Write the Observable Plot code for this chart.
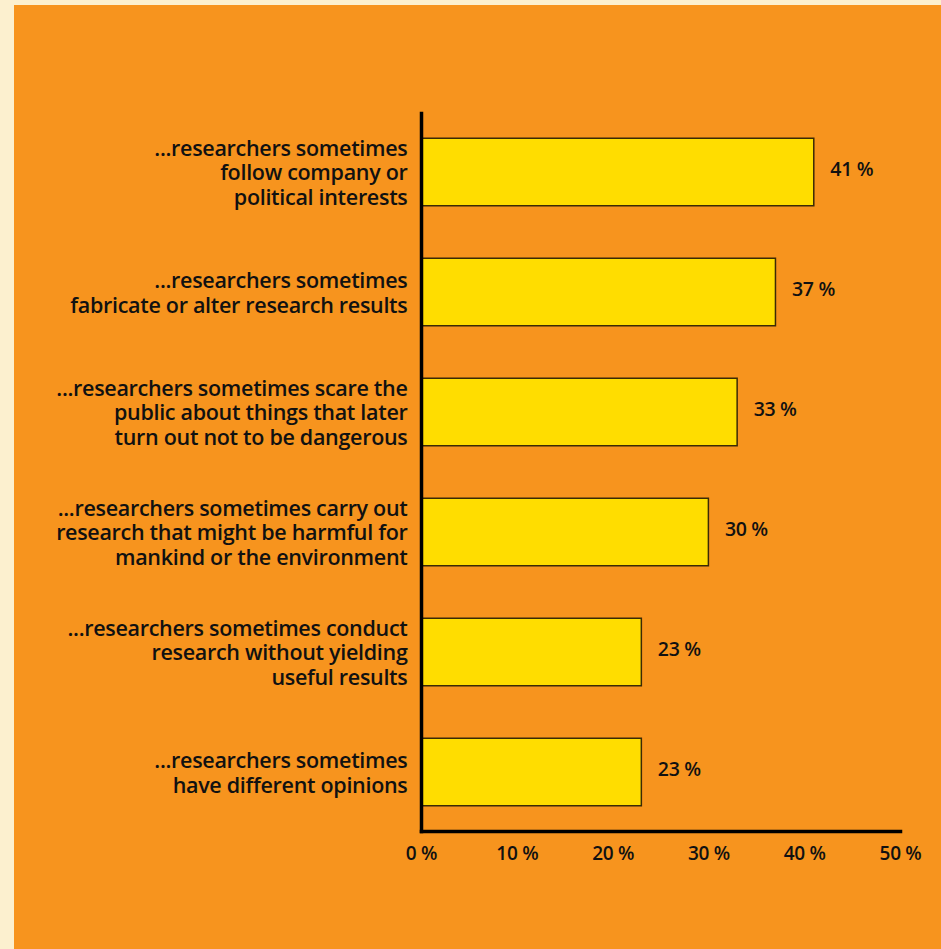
<!DOCTYPE html>
<html>
<head>
<meta charset="utf-8">
<script src="https://cdn.jsdelivr.net/npm/d3@7"></script>
<script src="https://cdn.jsdelivr.net/npm/@observablehq/plot@0.6"></script>
<style>
  html, body { margin: 0; padding: 0; }
  body { width: 941px; height: 949px; background: #fcf0cf; overflow: hidden; }
  #panel { position: absolute; left: 14px; top: 5px; width: 927px; height: 944px; background: #f7941e; }
  #panel svg { display: block; }
</style>
</head>
<body>
<div id="panel"></div>
<script>
const categories = [
  "...researchers sometimes\nfollow company or\npolitical interests",
  "...researchers sometimes\nfabricate or alter research results",
  "...researchers sometimes scare the\npublic about things that later\nturn out not to be dangerous",
  "...researchers sometimes carry out\nresearch that might be harmful for\nmankind or the environment",
  "...researchers sometimes conduct\nresearch without yielding\nuseful results",
  "...researchers sometimes\nhave different opinions"
];
const values = [41, 37, 33, 30, 23, 23];
const xTicks = [0, 10, 20, 30, 40, 50];

const data = categories.map((c, i) => ({category: c, value: values[i]}));
const font = "'Open Sans', sans-serif";

const chart = Plot.plot({
  width: 927,
  height: 944,
  marginLeft: 407,
  marginRight: 41,
  marginTop: 108,
  marginBottom: 118,
  style: {background: "transparent", fontFamily: font, color: "#111"},
  x: {domain: [0, 50]},
  y: {domain: categories, paddingInner: 0.4375, paddingOuter: 0.2104, round: false},
  marks: [
    Plot.barX(data, {x: "value", y: "category", fill: "#ffdd00", stroke: "#3b2a05", strokeWidth: 1.5}),
    Plot.text(data, {x: "value", y: "category", text: d => `${d.value} %`, textAnchor: "start", dx: 16, dy: -3,
      fontSize: 19.5, fontWeight: 600, fill: "#111"}),
    Plot.axisY({tickSize: 0, tickPadding: 14, fontSize: 21.5, fontWeight: 600, lineHeight: 1.14,
      textAnchor: "end", label: null, fill: "#111"}),
    Plot.axisX({ticks: xTicks, tickSize: 0, tickPadding: 15, fontSize: 19, fontWeight: 600,
      tickFormat: d => `${d} %`, label: null, fill: "#111"}),
    Plot.frame({anchor: "left", stroke: "#000", strokeWidth: 3.5}),
    Plot.frame({anchor: "bottom", stroke: "#000", strokeWidth: 3.5})
  ]
});
chart.style.overflow = "visible";
chart.querySelectorAll("text").forEach(t => t.style.letterSpacing = "-0.3px");
document.getElementById("panel").appendChild(chart);
</script>
</body>
</html>
